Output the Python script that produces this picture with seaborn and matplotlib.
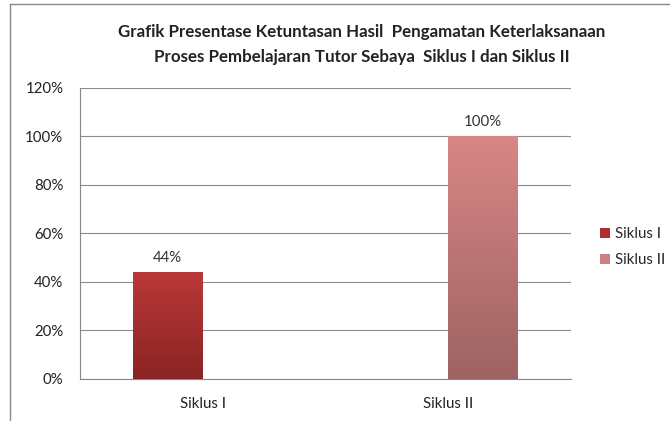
import matplotlib
matplotlib.use("Agg")
import matplotlib.pyplot as plt
import seaborn as sns
import numpy as np
import pandas as pd
from matplotlib.colors import LinearSegmentedColormap
from matplotlib.patches import Patch
from matplotlib.lines import Line2D

# values
categories = ["Siklus I", "Siklus II"]
series = ["Siklus I", "Siklus II"]
values = [44, 100]
yticks = [0, 20, 40, 60, 80, 100, 120]

# colours: (top, bottom) of each bar's gradient + legend swatch
grad_colors = {"Siklus I": ("#BB3838", "#8A2424"), "Siklus II": ("#D88686", "#9E6363")}
legend_colors = {"Siklus I": "#B02E2E", "Siklus II": "#D07F7F"}

df = pd.DataFrame({"kategori": categories, "seri": series, "nilai": values})

sns.set_style("white")
plt.rcParams["font.family"] = ["Lato", "DejaVu Sans"]

fig = plt.figure(figsize=(6.7, 4.21), dpi=100)
ax = fig.add_axes([0.1194, 0.0998, 0.7328, 0.6912])

sns.barplot(data=df, x="kategori", y="nilai", hue="seri", order=categories,
            hue_order=series, palette=legend_colors, width=0.57, dodge=True,
            legend=False, ax=ax, saturation=1)

# gradient fill on the bars
bars = sorted([p for p in ax.patches if p.get_height() > 0], key=lambda p: p.get_x())
for p, s in zip(bars, series):
    x, w, h = p.get_x(), p.get_width(), p.get_height()
    cmap = LinearSegmentedColormap.from_list(s, [grad_colors[s][1], grad_colors[s][0]])
    grad = np.linspace(0, 1, 256).reshape(-1, 1)
    im = ax.imshow(grad, extent=[x, x + w, 0, h], origin="lower", aspect="auto",
                   cmap=cmap, zorder=p.get_zorder() + 0.1)
    im.set_clip_path(p)
    p.set_edgecolor("none")
    ax.text(x + w / 2, h + 3, f"{h:.0f}%", ha="center", va="bottom",
            fontsize=10.8, color="#333333")

ax.set_xlim(-0.5, 1.5)
ax.set_ylim(0, 120)
ax.set_yticks(yticks)
ax.set_yticklabels([f"{t}%" for t in yticks], fontsize=10.8, color="#222222")
ax.set_xticks([0, 1])
ax.set_xticklabels(categories, fontsize=10.8, color="#222222")
ax.set_xticks([-0.5, 0.5, 1.5], minor=True)
ax.tick_params(axis="x", which="major", length=0, pad=13)
ax.tick_params(axis="x", which="minor", length=5, color="#888888", width=0.8, direction="out")
ax.tick_params(axis="y", length=5, color="#888888", width=0.8, direction="out", pad=7)
ax.yaxis.grid(True, color="#8c8c8c", linewidth=0.8)
ax.set_axisbelow(True)
ax.set_xlabel("")
ax.set_ylabel("")
for side in ["top", "right"]:
    ax.spines[side].set_visible(False)
for side in ["left", "bottom"]:
    ax.spines[side].set_color("#888888")
    ax.spines[side].set_linewidth(0.8)

handles = [Patch(facecolor=legend_colors[s], edgecolor="none", label=s) for s in series]
fig.legend(handles=handles, loc="center left", bbox_to_anchor=(0.875, 0.413),
           frameon=False, fontsize=10.8, handlelength=0.7, handleheight=0.7,
           handletextpad=0.3, labelspacing=0.8)

fig.text(0.54, 0.894, "Grafik Presentase Ketuntasan Hasil  Pengamatan Keterlaksanaan\n"
         "Proses Pembelajaran Tutor Sebaya  Siklus I dan Siklus II",
         ha="center", va="center", fontsize=12.2, fontweight="bold",
         color="#222222", linespacing=1.65)

# outer chart border (left and top edges visible in the crop)
fig.add_artist(Line2D([0.0149, 0.0149], [0, 0.99], transform=fig.transFigure,
                      color="#888888", linewidth=1))
fig.add_artist(Line2D([0.0149, 1], [0.99, 0.99], transform=fig.transFigure,
                      color="#888888", linewidth=1))

fig.savefig("out.png", dpi=100)
